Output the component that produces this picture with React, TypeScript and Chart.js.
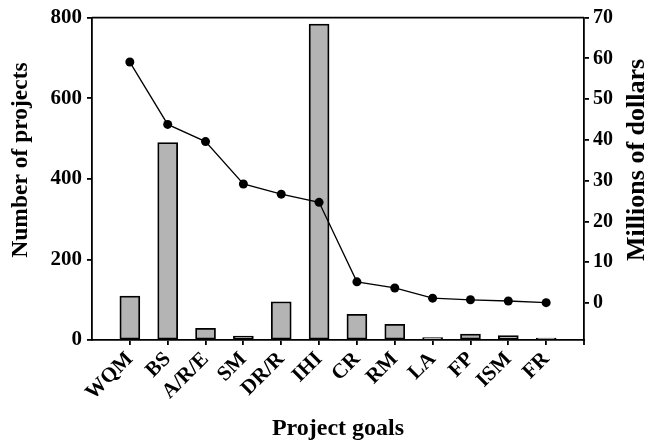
import React, { useEffect, useRef } from "react";
import { Chart, registerables } from "chart.js";

Chart.register(...registerables);

const categories = ["WQM", "BS", "A/R/E", "SM", "DR/R", "IHI", "CR", "RM", "LA", "FP", "ISM", "FR"];
const projectCounts = [109, 490, 29, 10, 95, 784, 64, 39, 6, 15, 11, 5];
const millionsOfDollars = [59.1, 43.8, 39.6, 29.2, 26.7, 24.7, 5.2, 3.7, 1.2, 0.8, 0.5, 0.1];
const leftTicks = [0, 200, 400, 600, 800];
const rightTicks = [0, 10, 20, 30, 40, 50, 60, 70];

const FONT = "'Liberation Serif', 'Times New Roman', serif";

const framePlugin = {
  id: "frame",
  afterDraw(chart: any) {
    const { ctx, chartArea } = chart;
    ctx.save();
    ctx.strokeStyle = "#000";
    ctx.lineWidth = 1.8;
    ctx.beginPath();
    ctx.moveTo(chartArea.left, chartArea.top);
    ctx.lineTo(chartArea.right, chartArea.top);
    ctx.moveTo(chartArea.right, chartArea.bottom);
    ctx.lineTo(chartArea.right, chartArea.bottom + 5);
    ctx.stroke();
    ctx.fillStyle = "#000";
    ctx.textAlign = "center";
    ctx.textBaseline = "middle";
    ctx.save();
    ctx.font = `bold 26px ${FONT}`;
    ctx.translate(637, 160);
    ctx.rotate(-Math.PI / 2);
    ctx.fillText("Millions of dollars", 0, 0);
    ctx.restore();
    ctx.save();
    ctx.font = `bold 23.5px ${FONT}`;
    ctx.translate(21, 160);
    ctx.rotate(-Math.PI / 2);
    ctx.fillText("Number of projects", 0, 0);
    ctx.restore();
    ctx.restore();
  },
};

export default function App() {
  const ref = useRef<HTMLCanvasElement>(null);
  useEffect(() => {
    if (!ref.current) return;
    const chart = new Chart(ref.current, {
      type: "bar",
      data: {
        datasets: [
          {
            type: "line",
            label: "Millions of dollars",
            data: millionsOfDollars.map((v, i) => ({ x: i, y: v })),
            yAxisID: "y1",
            xAxisID: "x",
            borderColor: "#000",
            borderWidth: 1.3,
            pointRadius: 4.5,
            pointBackgroundColor: "#000",
            pointBorderColor: "#000",
            pointBorderWidth: 0,
            order: 0,
          } as any,
          {
            type: "bar",
            label: "Number of projects",
            data: projectCounts.map((v, i) => ({ x: i, y: v })),
            yAxisID: "y",
            xAxisID: "x",
            backgroundColor: "#b4b4b4",
            borderColor: "#000",
            borderWidth: 1.8,
            borderSkipped: false,
            barThickness: 20,
            order: 1,
          } as any,
        ],
      },
      options: {
        animation: false,
        responsive: false,
        layout: { padding: { top: 17, left: 0, right: 0, bottom: 0 } },
        plugins: { legend: { display: false }, tooltip: { enabled: false } },
        scales: {
          x: {
            type: "linear",
            min: -1,
            max: 12,
            offset: false,
            afterBuildTicks: (scale: any) => {
              scale.ticks = categories.map((_, i) => ({ value: i }));
            },
            afterFit: (scale: any) => {
              scale.height = 103;
            },
            ticks: {
              autoSkip: false,
              minRotation: 45,
              maxRotation: 45,
              color: "#000",
              padding: 2,
              font: { family: FONT, size: 21, weight: "bold" },
              callback: (v: any) => categories[v] ?? "",
            },
            grid: { offset: false, drawOnChartArea: false, drawTicks: true, tickLength: 5, color: "#000", lineWidth: 1.8 },
            border: { display: true, color: "#000", width: 1.8 },
            title: {
              display: true,
              text: "Project goals",
              color: "#000",
              font: { family: FONT, size: 24, weight: "bold" },
              padding: { top: 0, bottom: 0 },
            },
          },
          y: {
            type: "linear",
            position: "left",
            min: 0,
            max: 800,
            afterBuildTicks: (scale: any) => {
              scale.ticks = leftTicks.map((v) => ({ value: v }));
            },
            afterFit: (scale: any) => {
              scale.width = 92;
            },
            ticks: {
              color: "#000",
              padding: 5,
              font: { family: FONT, size: 21, weight: "bold" },
            },
            grid: { drawOnChartArea: false, drawTicks: true, tickLength: 5, color: "#000", lineWidth: 1.8 },
            border: { display: true, color: "#000", width: 1.8 },
          },
          y1: {
            type: "linear",
            position: "right",
            min: -9.06,
            max: 70,
            afterBuildTicks: (scale: any) => {
              scale.ticks = rightTicks.map((v) => ({ value: v }));
            },
            afterFit: (scale: any) => {
              scale.width = 68;
            },
            ticks: {
              color: "#000",
              padding: 4,
              font: { family: FONT, size: 20, weight: "bold" },
            },
            grid: { drawOnChartArea: false, drawTicks: true, tickLength: 5, color: "#000", lineWidth: 1.8 },
            border: { display: true, color: "#000", width: 1.8 },
          },
        },
      } as any,
      plugins: [framePlugin],
    });
    return () => chart.destroy();
  }, []);
  return (
    <div style={{ position: "absolute", left: 0, top: 0, width: 652, height: 443, background: "#fff" }}>
      <canvas ref={ref} width={652} height={443} />
    </div>
  );
}
